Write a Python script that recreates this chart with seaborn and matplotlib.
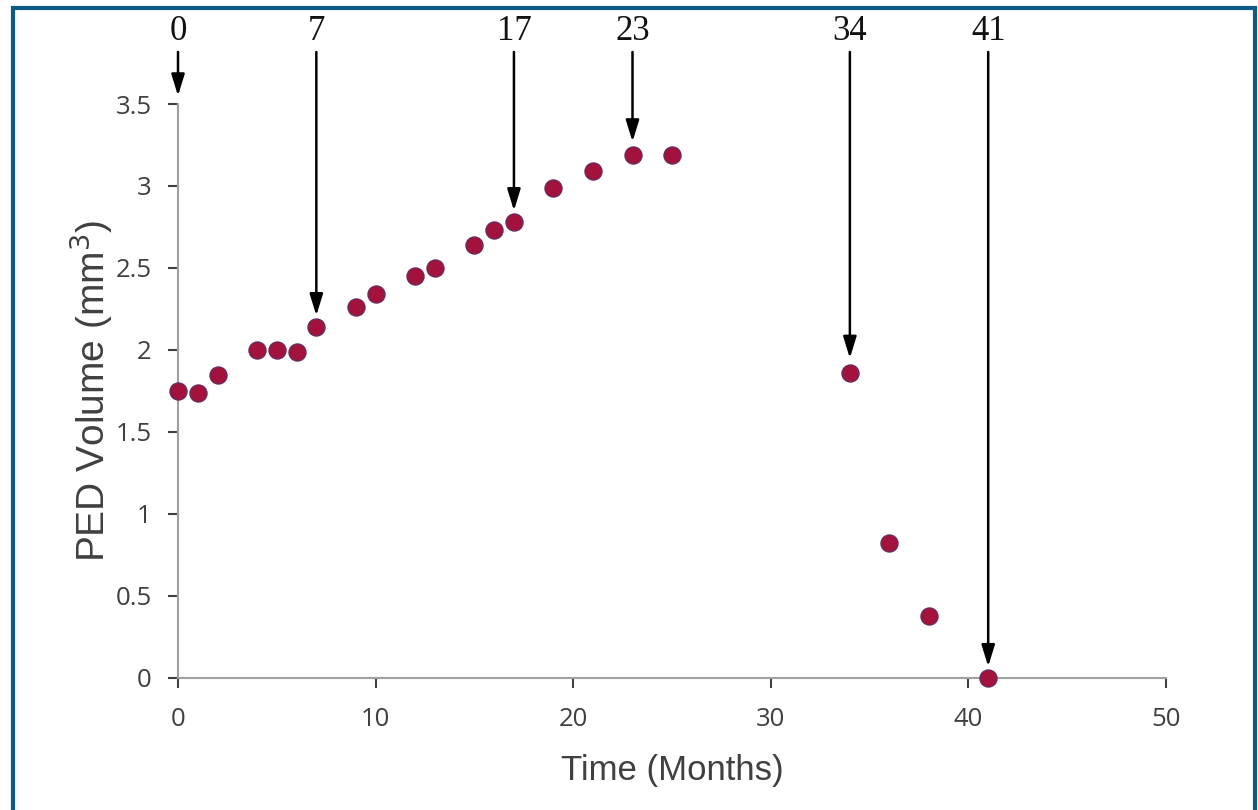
import numpy as np
import pandas as pd
import seaborn as sns
import matplotlib.pyplot as plt
from matplotlib.patches import Rectangle

# PED volume over time
months = [0, 1, 2, 4, 5, 6, 7, 9, 10, 12, 13, 15, 16, 17, 19, 21, 23, 25, 34, 36, 38, 41]
volume = [1.75, 1.74, 1.85, 2.0, 2.0, 1.99, 2.14, 2.26, 2.34, 2.45, 2.50, 2.64, 2.73, 2.78,
          2.99, 3.09, 3.19, 3.19, 1.86, 0.82, 0.38, 0.0]

# annotated visits and where their arrows end
arrow_months = [0, 7, 17, 23, 34, 41]
arrow_tips = [3.55, 2.21, 2.85, 3.27, 1.95, 0.07]

xticks = [0, 10, 20, 30, 40, 50]
yticks = [0, 0.5, 1, 1.5, 2, 2.5, 3, 3.5]

if __name__ == "__main__":
    sns.set_style("ticks")
    plt.rcParams["font.family"] = ["Open Sans", "DejaVu Sans"]

    df = pd.DataFrame({"month": months, "volume": volume})

    fig = plt.figure(figsize=[12.58, 8.10], dpi=100)
    ax = fig.add_axes([0.1415, 0.163, 0.7854, 0.7086])
    sns.scatterplot(data=df, x="month", y="volume", ax=ax, s=150,
                    color="#a3123c", edgecolor="#6b2a5a", linewidth=1.0,
                    zorder=3, clip_on=False)

    ax.set_xlim(0, 50)
    ax.set_ylim(0, 3.5)
    ax.set_xticks(xticks)
    ax.set_yticks(yticks)
    ax.set_yticklabels(["{:g}".format(v) for v in yticks])
    ax.tick_params(colors="#404040", labelsize=18.5, length=7, width=1.5)
    ax.tick_params(axis="x", pad=14)
    ax.tick_params(axis="y", pad=12)
    for side in ["left", "bottom"]:
        ax.spines[side].set_color("#a0a0a0")
        ax.spines[side].set_linewidth(1.5)
    sns.despine(ax=ax)

    lab_font = ["Liberation Sans", "DejaVu Sans"]
    ax.set_xlabel("Time (Months)", fontsize=25, color="#404040", labelpad=16,
                  family=lab_font)
    ax.set_ylabel("PED Volume (mm$^3$)", fontsize=28, color="#404040", labelpad=0,
                  family=lab_font)

    for m, tip in zip(arrow_months, arrow_tips):
        ax.annotate("", xy=(m, tip), xycoords="data",
                    xytext=(m, 758), textcoords=("data", "figure pixels"),
                    arrowprops=dict(arrowstyle="-|>,head_length=1.3,head_width=0.4",
                                    color="black", lw=1.8, shrinkA=0, shrinkB=0),
                    annotation_clip=False)
        ax.annotate(str(m), xy=(m, 779), xycoords=("data", "figure pixels"),
                    ha="center", va="center", fontsize=25,
                    family=["Liberation Serif", "DejaVu Serif"], color="#111111",
                    annotation_clip=False)

    # image frame
    fig.patches.append(Rectangle((13, -10), 1242, 812, transform=None,
                                 fill=False, edgecolor="#0d5a86", linewidth=3))

    fig.savefig("out.png", dpi=100)
